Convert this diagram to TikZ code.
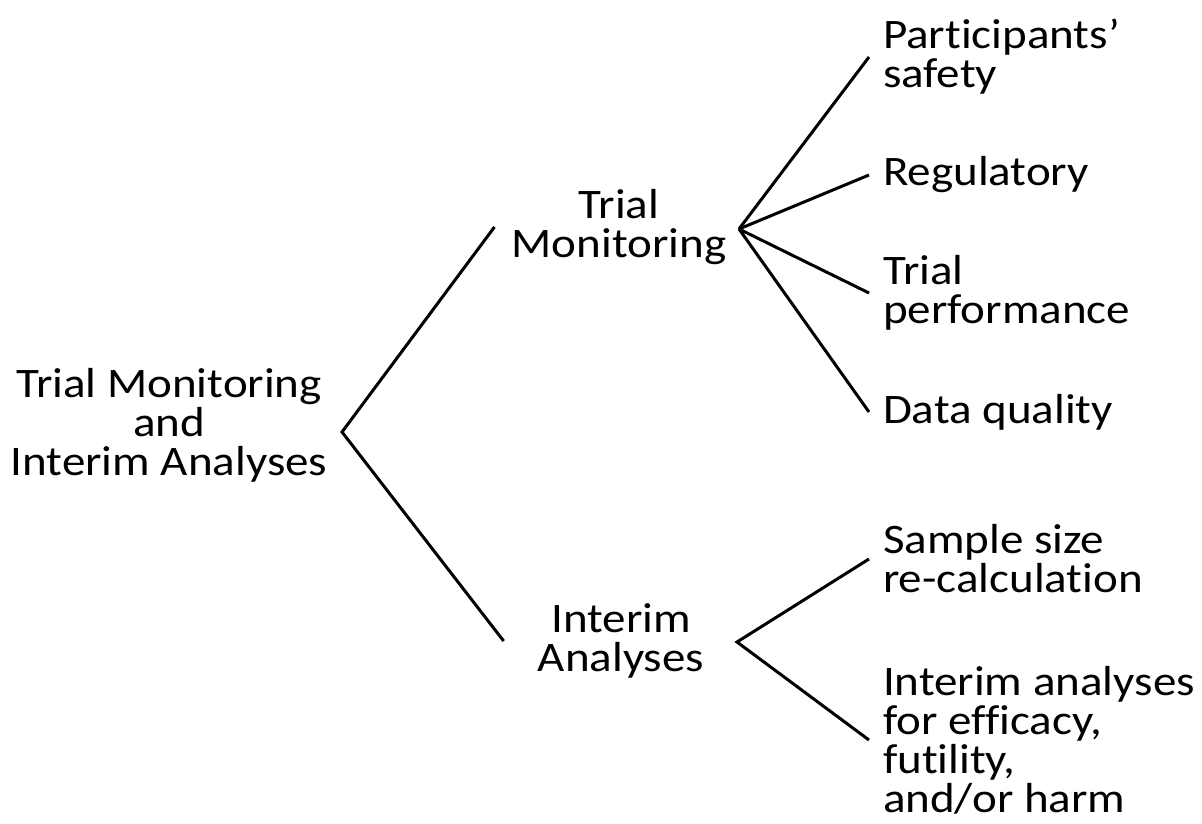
\documentclass[tikz,border=0pt]{standalone}
\usepackage{fontspec}
\setmainfont{Carlito}[Ligatures={TeX,NoCommon},FakeStretch=1.12]
\usetikzlibrary{positioning,calc}

\begin{document}
\begin{tikzpicture}[x=1pt,y=-1pt,
    txt/.style={font=\fontsize{42}{39}\selectfont, inner sep=0pt},
    mid/.style={txt, align=center},
    leaf/.style={txt, align=left, anchor=west, outer xsep=14pt},
    branch/.style={line width=3pt}]
    \useasboundingbox (0,0) rectangle (1202,823);
    % root and second level
    \node[mid] (root) at (169,425) {Trial Monitoring\\and\\Interim Analyses};
    \node[mid] (mon) at (619,227) {Trial\\Monitoring};
    \node[mid] (ia) at (621,641) {Interim\\Analyses};
    % leaves
    \node[leaf] (safety) at (869,57) {Participants'\\safety};
    \node[leaf] (reg) at (869,175) {Regulatory};
    \node[leaf] (perf) at (869,293) {Trial\\performance};
    \node[leaf] (quality) at (869,412) {Data quality};
    \node[leaf] (sample) at (869,559) {Sample size\\re-calculation};
    \node[leaf] (harm) at (869,740) {Interim analyses\\for efficacy,\\futility,\\and/or harm};
    % forks
    \coordinate (rootfork) at (342,432);
    \coordinate (monfork) at (739,229);
    \coordinate (iafork) at (737,642);
    \draw[branch] ([xshift=-17pt]mon.west) -- (rootfork) -- ([xshift=-34pt]ia.west);
    \foreach \leafname in {safety,reg,perf,quality}
        \draw[branch] (monfork) -- (\leafname.west);
    \draw[branch] (sample.west) -- (iafork) -- (harm.west);
\end{tikzpicture}
\end{document}
